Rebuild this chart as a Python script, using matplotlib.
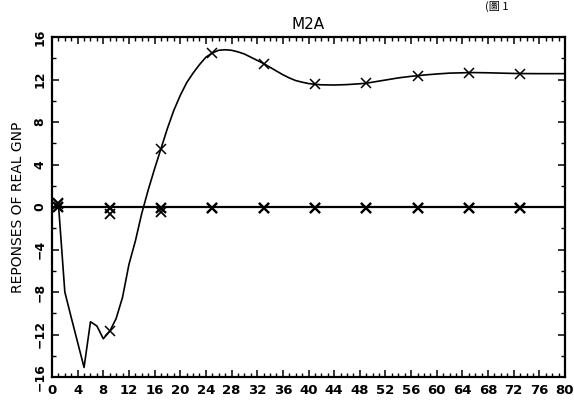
import matplotlib
matplotlib.use("Agg")
import matplotlib.pyplot as plt
from matplotlib.ticker import MultipleLocator

# ---- data ----
gnp_x = [1, 2, 3, 4, 5, 6, 7, 8, 9, 10, 11, 12, 13, 14, 15, 16, 17, 18, 19, 20,
         21, 22, 23, 24, 25, 26, 27, 28, 29, 30, 31, 32, 33, 34, 35, 36, 37, 38,
         39, 40, 41, 42, 44, 46, 48, 49, 50, 52, 54, 56, 57, 58, 60, 62, 64, 65,
         66, 68, 70, 72, 73, 76, 80]
gnp_y = [0.3, -8.0, -10.4, -12.75, -15.1, -10.8, -11.2, -12.4, -11.7, -10.5, -8.5,
         -5.4, -3.2, -0.6, 1.6, 3.6, 5.5, 7.4, 9.1, 10.5, 11.7, 12.6, 13.4, 14.1,
         14.5, 14.75, 14.8, 14.75, 14.6, 14.4, 14.1, 13.8, 13.5, 13.15, 12.8, 12.45,
         12.15, 11.9, 11.75, 11.62, 11.55, 11.5, 11.48, 11.52, 11.6, 11.65, 11.75,
         11.95, 12.15, 12.3, 12.35, 12.42, 12.52, 12.6, 12.63, 12.65, 12.65, 12.63,
         12.6, 12.57, 12.56, 12.55, 12.55]
gnp_marks = [1, 9, 17, 25, 33, 41, 49, 57, 65, 73]

flat_x = [1, 9, 17, 25, 33, 41, 49, 57, 65, 73]
flat_a = [0.0, -0.05, -0.05, -0.05, -0.08, -0.08, -0.08, -0.08, -0.08, -0.08]
flat_b = [0.35, -0.7, -0.5, -0.1, -0.1, -0.1, -0.1, -0.1, -0.1, -0.1]

x_ticks = list(range(0, 81, 4))
y_ticks = list(range(-16, 17, 4))

title = "M2A"
ylabel = "REPONSES OF REAL GNP"
corner_note = "(圖 1"

# ---- figure ----
fig = plt.figure(figsize=(5.74, 4.0), dpi=100)
ax = fig.add_axes([52 / 574, 1 - 377 / 400, (565 - 52) / 574, (377 - 37) / 400])

ax.axhline(0, color="black", lw=1.6)
ax.plot(gnp_x, gnp_y, color="black", lw=1.2)
mark_idx = [gnp_x.index(v) for v in gnp_marks]
ax.plot([gnp_x[i] for i in mark_idx], [gnp_y[i] for i in mark_idx], ls="none",
        marker="x", ms=7, mew=1.1, color="black")

ax.plot(flat_x, flat_a, ls="none", marker="x", ms=7, mew=1.7, color="black")
ax.plot(flat_x, flat_b, ls="none", marker="x", ms=7, mew=1.3, color="black")

ax.set_xlim(0, 80)
ax.set_ylim(-16, 16)

for s in ax.spines.values():
    s.set_linewidth(1.6)
    s.set_color("black")

ax.set_xticks(x_ticks)
ax.xaxis.set_minor_locator(MultipleLocator(1))
ax.set_yticks(y_ticks)
ax.yaxis.set_minor_locator(MultipleLocator(2))
ax.tick_params(axis="both", which="major", direction="in", length=5, width=1.1,
               top=True, right=True, color="black")
ax.tick_params(axis="both", which="minor", direction="in", length=3, width=1.0,
               top=True, right=True, color="black")
ax.tick_params(axis="x", which="major", labelsize=9.5, pad=5)
ax.tick_params(axis="y", which="major", labelsize=9, pad=4)

ax.set_xticklabels([str(v) for v in x_ticks], fontweight="bold")
ax.set_yticklabels([("\u2212" + str(-v)) if v < 0 else str(v) for v in y_ticks],
                   fontweight="bold", rotation=90, va="center")

ax.set_ylabel(ylabel, fontsize=10, labelpad=6)
ax.set_title(title, fontsize=11, pad=6)

fig.text(0.845, 0.998, corner_note, fontsize=8,
         family=["Noto Sans CJK TC", "DejaVu Sans"], va="top", ha="left")

fig.savefig("out.png", dpi=100)
